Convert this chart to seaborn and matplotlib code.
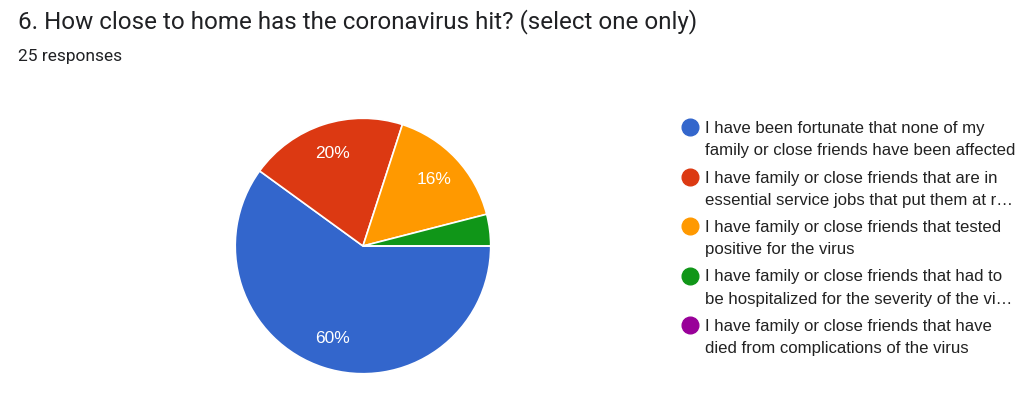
import matplotlib
matplotlib.use('Agg')
import matplotlib.pyplot as plt
import seaborn as sns

sns.set_theme(style='white')
plt.rcParams['font.family'] = ['Liberation Sans', 'DejaVu Sans']

# ── data ─────────────────────────────────────────────
TITLE     = '6. How close to home has the coronavirus hit? (select one only)'
SUBTITLE  = '25 responses'
LABELS    = ['I have been fortunate that none of my\nfamily or close friends have been affected',
             'I have family or close friends that are in\nessential service jobs that put them at r\u2026',
             'I have family or close friends that tested\npositive for the virus',
             'I have family or close friends that had to\nbe hospitalized for the severity of the vi\u2026',
             'I have family or close friends that have\ndied from complications of the virus']
COUNTS    = [15, 5, 4, 1, 0]
COLORS    = ['#3366CC', '#DC3912', '#FF9900', '#109618', '#990099']

fig = plt.figure(figsize=(10.23, 4.0), dpi=100)
fig.patch.set_facecolor('white')

# pie
ax = fig.add_axes([0.2287, 0.0625, 0.2522, 0.645])
wedges, texts, autotexts = ax.pie(
    COUNTS, colors=COLORS, startangle=0, counterclock=False,
    autopct=lambda p: f'{p:.0f}%' if p >= 5 else '',
    pctdistance=0.76, radius=1.0,
    wedgeprops=dict(edgecolor='white', linewidth=1.2),
    textprops=dict(color='white', fontsize=12.5))
ax.set_aspect('equal')
ax.set_xlim(-1.01, 1.01)
ax.set_ylim(-1.01, 1.01)

# legend (drawn by hand so the dot sits on the first line)
y0, step = 1 - 127 / 400, 49.5 / 400
for i, (lab, col) in enumerate(zip(LABELS, COLORS)):
    y = y0 - i * step
    fig.lines.append(plt.Line2D([690 / 1023], [y], transform=fig.transFigure,
                                marker='o', markersize=12, linestyle='none',
                                markerfacecolor=col, markeredgecolor=col))
    fig.text(705 / 1023, y + 6 / 400, lab, fontsize=12.1, color='#222222',
             va='top', ha='left', linespacing=1.62)

# titles
fig.text(18 / 1023, 1 - 22 / 400, TITLE, fontsize=17.4, color='#202124',
         va='center', ha='left', family=['Roboto', 'DejaVu Sans'])
fig.text(18 / 1023, 1 - 57 / 400, SUBTITLE, fontsize=12.5, color='#202124',
         va='center', ha='left', family=['Roboto', 'DejaVu Sans'])

fig.savefig('out.png', dpi=100, facecolor='white')
plt.close()
